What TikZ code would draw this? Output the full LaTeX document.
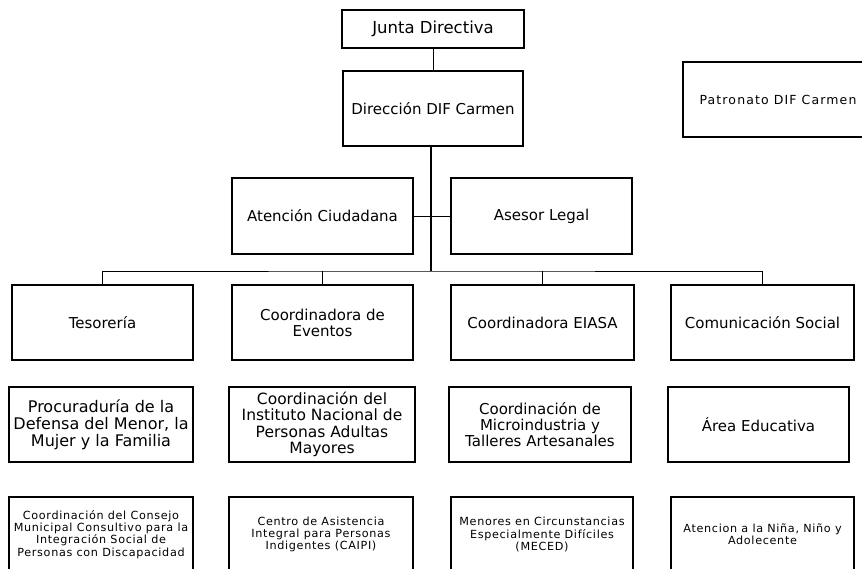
\documentclass[tikz,border=0pt]{standalone}
\usepackage{fontspec}
\setmainfont{DejaVu Sans}
\begin{document}
\begin{tikzpicture}[x=1pt,y=-1pt,
  box/.style={draw, line width=1.1pt, anchor=north west, align=center, inner sep=1pt, outer sep=0pt},
  big/.style={font=\fontsize{15}{16}\selectfont},
  mid/.style={font=\fontsize{15.5}{16.5}\selectfont},
  small/.style={font=\fontsize{11.2}{12.3}\selectfont\addfontfeatures{LetterSpace=6}},
  conn/.style={line width=1pt},
  trunk/.style={line width=2.6pt}]
\useasboundingbox (0,0) rectangle (862,568);
% top
\node[box, font=\fontsize{16.5}{18}\selectfont, minimum width=182pt, minimum height=38pt] (junta) at (342,10) {Junta Directiva};
\node[box, big, minimum width=180pt, minimum height=75pt] (dir) at (343,71) {Dirección DIF Carmen};
\node[box, font=\fontsize{12.5}{14}\selectfont\addfontfeatures{LetterSpace=9}, minimum width=190pt, minimum height=75pt] (pat) at (683,62) {Patronato DIF Carmen};
% staff
\node[box, big, minimum width=181pt, minimum height=76pt] (aten) at (232,178) {Atención Ciudadana};
\node[box, big, minimum width=181pt, minimum height=76pt] (ases) at (451,178) {Asesor Legal};
% row 1
\node[box, big, minimum width=181pt, minimum height=75pt] (tes) at (12,285) {Tesorería};
\node[box, big, minimum width=181pt, minimum height=75pt] (eve) at (232,285) {Coordinadora de\\Eventos};
\node[box, big, minimum width=183pt, minimum height=75pt] (eia) at (451,285) {Coordinadora EIASA};
\node[box, big, minimum width=183pt, minimum height=75pt] (com) at (671,285) {Comunicación Social};
% row 2
\node[box, font=\fontsize{16}{16.8}\selectfont, minimum width=184pt, minimum height=75pt] (proc) at (9,387) {Procuraduría de la\\Defensa del Menor, la\\Mujer y la Familia};
\node[box, mid, minimum width=186pt, minimum height=75pt] (inst) at (229,387) {Coordinación del\\Instituto Nacional de\\Personas Adultas\\Mayores};
\node[box, big, minimum width=182pt, minimum height=75pt] (micro) at (449,387) {Coordinación de\\Microindustria y\\Talleres Artesanales};
\node[box, big, minimum width=181pt, minimum height=75pt] (area) at (668,387) {Área Educativa};
% row 3
\node[box, small, minimum width=184pt, minimum height=75pt] (cons) at (9,497) {Coordinación del Consejo\\Municipal Consultivo para la\\Integración Social de\\Personas con Discapacidad};
\node[box, small, minimum width=184pt, minimum height=75pt] (centro) at (229,497) {Centro de Asistencia\\Integral para Personas\\Indigentes (CAIPI)};
\node[box, small, minimum width=182pt, minimum height=75pt] (men) at (451,497) {Menores en Circunstancias\\Especialmente Difíciles\\(MECED)};
\node[box, small, minimum width=183pt, minimum height=75pt] (nina) at (671,497) {Atencion a la Niña, Niño y\\Adolecente};
% connectors
\coordinate (bus) at (431,271);
\draw[conn] (junta.south) -- (dir.north);
\draw[trunk] (dir.south -| bus) -- (bus);
\draw[conn] (aten.east) -- (ases.west);
\draw[conn] (tes.north) |- (bus) -| (com.north);
\draw[conn] (eve.north) -- (eve.north |- bus);
\draw[conn] (eia.north) -- (eia.north |- bus);
\end{tikzpicture}
\end{document}
